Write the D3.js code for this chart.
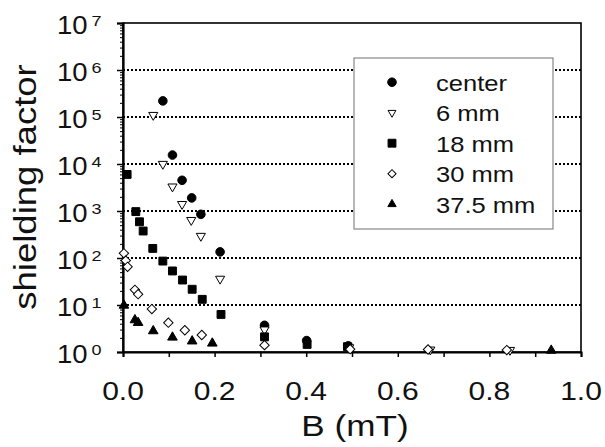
<!DOCTYPE html>
<html>
<head>
<meta charset="utf-8">
<script src="https://cdn.jsdelivr.net/npm/d3@7"></script>
<style>
  body { margin: 0; background: #fff; }
  text { font-family: "Liberation Sans", Arial, sans-serif; fill: #111; }
</style>
</head>
<body>
<div id="container"></div>
<script>
/* DATA */
const seriesNames = ["center", "6 mm", "18 mm", "30 mm", "37.5 mm"]

const centerB  = [0.087, 0.108, 0.129, 0.150, 0.170, 0.212, 0.309, 0.401, 0.492]
const centerSF = [2.2e5, 1.55e4, 4.5e3, 1.9e3, 850, 135, 3.7, 1.75, 1.35]

const mm6B  = [0.066, 0.087, 0.108, 0.129, 0.149, 0.170, 0.212, 0.309, 0.494, 0.671, 0.845]
const mm6SF = [1.1e5, 1.0e4, 3.3e3, 1.4e3, 640, 294, 36, 3.0, 1.25, 1.12, 1.1]

const mm18B  = [0.009, 0.028, 0.036, 0.044, 0.065, 0.087, 0.108, 0.130, 0.151, 0.173, 0.214, 0.309, 0.402, 0.490]
const mm18SF = [6.0e3, 970, 590, 375, 160, 86, 53, 34, 21.6, 13.2, 6.3, 2.1, 1.45, 1.3]

const mm30B  = [0.002, 0.006, 0.010, 0.026, 0.033, 0.063, 0.099, 0.135, 0.172, 0.309, 0.496, 0.666, 0.838]
const mm30SF = [126, 88, 65, 21, 17, 8.2, 4.2, 2.9, 2.3, 1.4, 1.15, 1.13, 1.1]

const mm375B  = [0.002, 0.026, 0.033, 0.066, 0.108, 0.151, 0.195, 0.935]
const mm375SF = [9.8, 4.8, 4.2, 2.8, 2.05, 1.7, 1.53, 1.08]

const xTicks = [0, 0.1, 0.2, 0.3, 0.4, 0.5, 0.6, 0.7, 0.8, 0.9, 1.0]
const xLabels = [0, 0.2, 0.4, 0.6, 0.8, 1.0]
const yExponents = [0, 1, 2, 3, 4, 5, 6, 7]

/* CONSTANTS */
const width = 605, height = 447
const margin = { top: 23, right: 24, bottom: 95, left: 123 }

const svg = d3.select("#container").append("svg")
  .attr("width", width)
  .attr("height", height)

// SCALES
const xScale = d3.scaleLinear()
  .domain([0, 1])
  .range([margin.left, width - margin.right])

const yScale = d3.scaleLog()
  .domain([1, 1e7])
  .range([height - margin.bottom, margin.top])

// stretch text horizontally, the original font runs wide
const stretch = (sel, k) => sel.each(function () {
  const len = this.getComputedTextLength()
  d3.select(this).attr("textLength", len * k).attr("lengthAdjust", "spacingAndGlyphs")
})

// GRIDLINES (dotted, 10^1 .. 10^6)
svg.append("g")
  .selectAll("line")
  .data(yExponents.slice(1, 7))
  .join("line")
  .attr("x1", xScale(0))
  .attr("x2", xScale(1))
  .attr("y1", d => yScale(10 ** d))
  .attr("y2", d => yScale(10 ** d))
  .attr("stroke", "#000")
  .attr("stroke-width", 2)
  .attr("stroke-dasharray", "2,2")

// FRAME
svg.append("rect")
  .attr("x", xScale(0))
  .attr("y", yScale(1e7))
  .attr("width", xScale(1) - xScale(0))
  .attr("height", yScale(1) - yScale(1e7))
  .attr("fill", "none")
  .attr("stroke", "#000")
  .attr("stroke-width", 1.6)

// AXES
const xAxis = d3.axisBottom(xScale)
  .tickValues(xTicks)
  .tickSize(5)
  .tickFormat("")

svg.append("g")
  .attr("transform", `translate(0, ${yScale(1)})`)
  .call(xAxis)
  .call(g => g.select(".domain").attr("stroke-width", 2))
  .call(g => g.selectAll(".tick line").attr("stroke-width", 1.5))

const minorTicks = []
yExponents.slice(0, 7).forEach(e => { for (let m = 2; m < 10; m++) minorTicks.push(m * 10 ** e) })

svg.append("g")
  .attr("transform", `translate(${xScale(0)}, 0)`)
  .call(d3.axisLeft(yScale).tickValues(minorTicks).tickSize(3).tickFormat(""))
  .call(g => g.select(".domain").remove())

svg.append("g")
  .attr("transform", `translate(${xScale(0)}, 0)`)
  .call(d3.axisLeft(yScale).tickValues(yExponents.map(e => 10 ** e)).tickSize(6).tickFormat(""))
  .call(g => g.select(".domain").attr("stroke-width", 2.2))
  .call(g => g.selectAll(".tick line").attr("stroke-width", 1.5))

// TICK LABELS
svg.append("g")
  .selectAll("text")
  .data(xLabels)
  .join("text")
  .attr("x", d => xScale(d))
  .attr("y", yScale(1) + 48)
  .attr("text-anchor", "middle")
  .attr("font-size", 25)
  .text(d => d.toFixed(1))
  .call(stretch, 1.2)

const yLab = svg.append("g")
yLab.selectAll(".base")
  .data(yExponents)
  .join("text")
  .attr("class", "base")
  .attr("x", 57)
  .attr("y", d => yScale(10 ** d) + 10.5)
  .attr("font-size", 25)
  .text("10")
  .call(stretch, 1.1)

yLab.selectAll(".exp")
  .data(yExponents)
  .join("text")
  .attr("class", "exp")
  .attr("x", 91.5)
  .attr("y", d => yScale(10 ** d) + 3)
  .attr("font-size", 15)
  .text(d => d)
  .call(stretch, 1.2)

// AXIS TITLES
svg.append("text")
  .attr("transform", `translate(36, 187) rotate(-90)`)
  .attr("text-anchor", "middle")
  .attr("font-size", 32)
  .text("shielding factor")
  .call(stretch, 1.14)

svg.append("text")
  .attr("x", 355)
  .attr("y", 436)
  .attr("text-anchor", "middle")
  .attr("font-size", 30)
  .text("B (mT)")
  .call(stretch, 1.17)

// MARKERS
const symbolFor = [
  { type: d3.symbolCircle, size: 58, fill: "#000", rotate: 0 },
  { type: d3.symbolTriangle, size: 36, fill: "#fff", rotate: 180 },
  { type: d3.symbolSquare, size: 62, fill: "#000", rotate: 0 },
  { type: d3.symbolSquare, size: 44, fill: "#fff", rotate: 45 },
  { type: d3.symbolTriangle, size: 40, fill: "#000", rotate: 0 }
]

const allSeries = [
  d3.zip(centerB, centerSF),
  d3.zip(mm6B, mm6SF),
  d3.zip(mm18B, mm18SF),
  d3.zip(mm30B, mm30SF),
  d3.zip(mm375B, mm375SF)
]

allSeries.forEach((pts, i) => {
  const s = symbolFor[i]
  svg.append("g")
    .selectAll("path")
    .data(pts)
    .join("path")
    .attr("d", d3.symbol().type(s.type).size(s.size))
    .attr("transform", d => `translate(${xScale(d[0])}, ${yScale(d[1])}) rotate(${s.rotate})`)
    .attr("fill", s.fill)
    .attr("stroke", "#000")
    .attr("stroke-width", 1)
})

// LEGEND
const legend = svg.append("g")
legend.append("rect")
  .attr("x", 354)
  .attr("y", 58)
  .attr("width", 199)
  .attr("height", 171)
  .attr("fill", "#fff")
  .attr("stroke", "#888")
  .attr("stroke-width", 1.2)

const rows = legend.selectAll(".row")
  .data(seriesNames)
  .join("g")
  .attr("class", "row")
  .attr("transform", (d, i) => `translate(0, ${90.7 + i * 30.5})`)

rows.append("path")
  .attr("d", (d, i) => d3.symbol().type(symbolFor[i].type).size(symbolFor[i].size * (i === 0 || i === 2 ? 1 : 0.75))())
  .attr("transform", (d, i) => `translate(392, -8.5) rotate(${symbolFor[i].rotate})`)
  .attr("fill", (d, i) => symbolFor[i].fill)
  .attr("stroke", "#000")
  .attr("stroke-width", 1)

rows.append("text")
  .attr("x", 436)
  .attr("y", 0)
  .attr("font-size", 22)
  .text(d => d)
  .call(stretch, 1.16)
</script>
</body>
</html>
